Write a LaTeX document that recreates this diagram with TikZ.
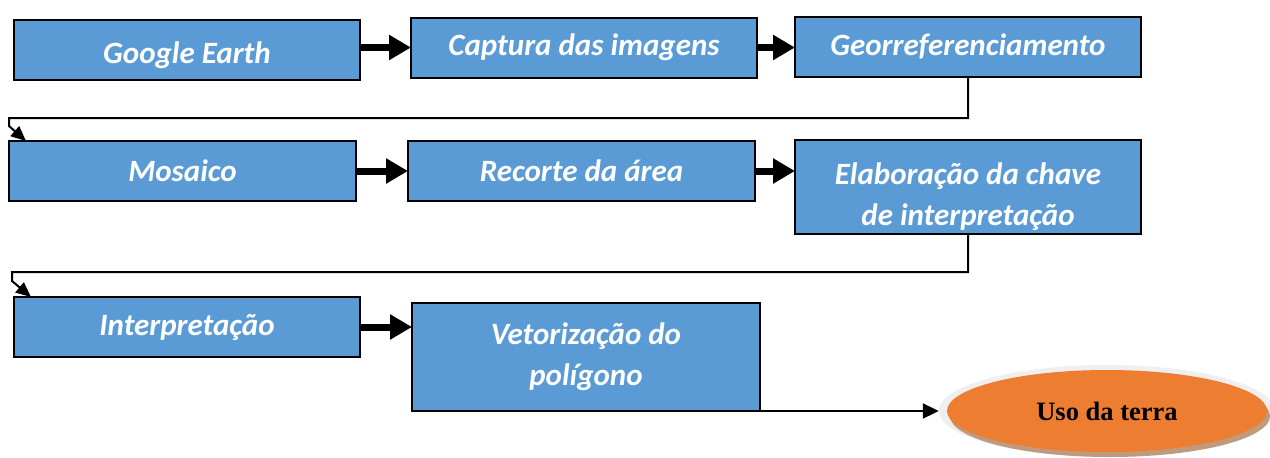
\documentclass[tikz,border=0pt]{standalone}
\usepackage{fontspec}
\setmainfont{Carlito}
\newfontfamily\serifb{Liberation Serif}
\usetikzlibrary{arrows.meta,shapes.geometric,calc}
\definecolor{boxblue}{HTML}{5B9BD5}
\definecolor{ovorange}{HTML}{ED7D31}
\definecolor{rimgray}{HTML}{EFEFEF}
\definecolor{shadowbrown}{HTML}{C09A7C}
\tikzset{
  stepbox/.style={draw=black, line width=2pt, fill=boxblue, text=white, align=center,
    font=\fontsize{31}{41}\selectfont\bfseries\itshape, inner sep=0pt, outer sep=0pt,
    minimum width=346pt, minimum height=60pt},
  bigarrow/.style={line width=7pt, -{Triangle[length=22pt,width=24pt]}},
  elbow/.style={line width=2pt, line join=miter, -{Triangle[length=15pt,width=13pt]}},
  thinarrow/.style={line width=2pt, -{Triangle[length=16pt,width=15pt]}},
}
\begin{document}
\begin{tikzpicture}[x=1pt,y=-1pt]
\useasboundingbox (0,0) rectangle (1270,458);
% row 1
\node[stepbox] (g) at (187,50) {\rule{0pt}{33pt}Google Earth};
\node[stepbox] (c) at (584,47.5) {Captura das imagens};
\node[stepbox] (geo) at (968,46.5) {Georreferenciamento};
% row 2
\node[stepbox, minimum width=347pt] (m) at (182.5,171) {Mosaico};
\node[stepbox, minimum width=347pt] (r) at (581.5,171) {Recorte da área};
\node[stepbox, minimum height=94pt] (e) at (968,187) {\rule{0pt}{42pt}Elaboração da chave\\de interpretação};
% row 3
\node[stepbox] (i) at (187,327) {Interpretação};
\node[stepbox, minimum width=348pt, minimum height=108pt] (v) at (586,357) {Vetorização do\\polígono};
% ellipse
\fill[rimgray] (1107,411) ellipse [x radius=168pt, y radius=46pt];
\fill[shadowbrown] (1110,416) ellipse [x radius=160pt, y radius=41pt];
\node[ellipse, fill=ovorange, inner sep=0pt, minimum width=320pt, minimum height=82pt,
  font=\serifb\fontsize{26.5}{30}\selectfont\bfseries] (u) at (1107,411) {Uso da terra};
% connectors
\draw[bigarrow] (g.east |- c.west) -- (c.west);
\draw[bigarrow] (c.east) -- (c.east -| geo.west);
\draw[bigarrow] (m.east) -- (r.west);
\draw[bigarrow] (r.east) -- (r.east -| e.west);
\draw[bigarrow] (i.east) -- (i.east -| v.west);
\coordinate (k1) at (9,118);
\coordinate (k2) at (12,272);
\draw[elbow] (geo.south) |- (k1) -- ++(0,8) -- ([xshift=17pt]m.north west);
\draw[elbow] (e.south) |- (k2) -- ++(0,9) -- ([xshift=17pt]i.north west);
\draw[thinarrow] ([xshift=-105pt]v.south east) -- ([xshift=-8pt]u.west);
\end{tikzpicture}
\end{document}
